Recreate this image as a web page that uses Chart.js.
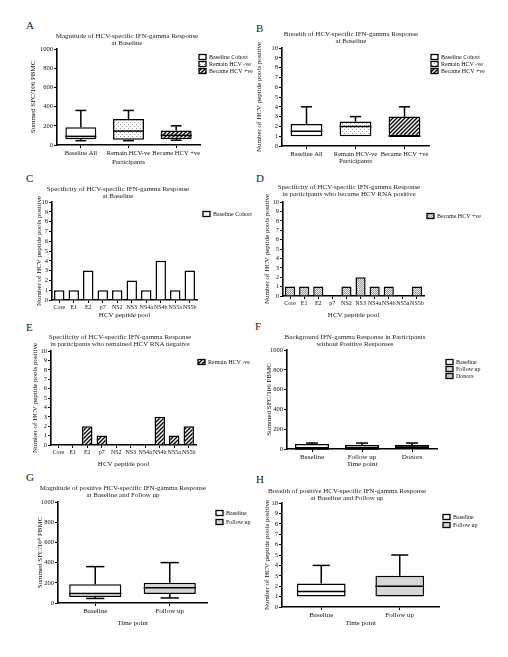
<!DOCTYPE html>
<html><head><meta charset="utf-8">
<script src="https://cdn.jsdelivr.net/npm/chart.js@4/dist/chart.umd.min.js"></script>
<style>
body{margin:0;background:#fff;width:508px;height:657px;position:relative;overflow:hidden;font-family:"Liberation Serif","DejaVu Serif",serif;}
canvas{position:absolute;}
.t{position:absolute;font-size:7px;line-height:7px;text-align:center;white-space:nowrap;transform:translateX(-50%);color:#222;z-index:2}
.l{position:absolute;font-size:11px;line-height:11px;color:#222;z-index:2}
</style></head><body>
<div class="l" style="left:26px;top:20px">A</div>
<div class="l" style="left:256px;top:23px">B</div>
<div class="l" style="left:26px;top:173px">C</div>
<div class="l" style="left:256px;top:173px">D</div>
<div class="l" style="left:26px;top:322px">E</div>
<div class="l" style="left:255px;top:321px">F</div>
<div class="l" style="left:26px;top:472px">G</div>
<div class="l" style="left:256px;top:474px">H</div>
<div class="t" style="left:127px;top:33px">Magnitude of HCV-specific IFN-gamma Response<br>at Baseline</div>
<div class="t" style="left:351px;top:31px">Breadth of HCV-specific IFN-gamma Response<br>at Baseline</div>
<div class="t" style="left:118px;top:186px">Specificity of HCV-specific IFN-gamma Response<br>at Baseline</div>
<div class="t" style="left:349px;top:184px">Specificity of HCV-specific IFN-gamma Response<br>in participants who became HCV RNA positive</div>
<div class="t" style="left:120px;top:334px">Specificity of HCV-specific IFN-gamma Response<br>in participants who remained HCV RNA negative</div>
<div class="t" style="left:355px;top:334px">Background IFN-gamma Response in Participants<br>without Positive Responses</div>
<div class="t" style="left:123px;top:485px">Magnitude of positive HCV-specific IFN-gamma Response<br>at Baseline and Follow up</div>
<div class="t" style="left:347px;top:488px">Breadth of positive HCV-specific IFN-gamma Response<br>at Baseline and Follow up</div>
<script>
// ---------- DATA ----------
const participantCats = ['Baseline All', 'Remain HCV-ve', 'Became HCV +ve'];
const magMin = [45, 45, 50];
const magQ1 = [60, 55, 60];
const magMed = [90, 145, 100];
const magQ3 = [185, 270, 150];
const magMax = [360, 360, 200];

const brMin = [1, 1, 1];
const brQ1 = [1, 1, 1];
const brMed = [1.5, 2, 1];
const brQ3 = [2.25, 2.5, 3];
const brMax = [4, 3, 4];

const poolCats = ['Core', 'E1', 'E2', 'p7', 'NS2', 'NS3', 'NS4a', 'NS4b', 'NS5a', 'NS5b'];
const baselineCounts = [1, 1, 3, 1, 1, 2, 1, 4, 1, 3];
const becameCounts = [1, 1, 1, 0, 1, 2, 1, 1, 0, 1];
const remainCounts = [0, 0, 2, 1, 0, 0, 0, 3, 1, 2];

const bgCats = ['Baseline', 'Follow up', 'Donors'];
const bgMin = [0, 0, 0];
const bgQ1 = [0, 0, 0];
const bgMed = [0, 0, 20];
const bgQ3 = [50, 40, 40];
const bgMax = [60, 60, 60];

const timeCats = ['Baseline', 'Follow up'];
const posMagMin = [45, 50];
const posMagQ1 = [60, 90];
const posMagMed = [95, 150];
const posMagQ3 = [185, 200];
const posMagMax = [360, 400];

const posBrMin = [1, 1];
const posBrQ1 = [1, 1];
const posBrMed = [1.5, 2];
const posBrQ3 = [2.25, 3];
const posBrMax = [4, 5];

const sfcTicksMax = 1000, sfcStep = 200;
const countTicksMax = 10, countStep = 1;

// ---------- STYLE ----------
const F = '"Liberation Serif", "DejaVu Serif", serif';
function pat(type){
  const c = document.createElement('canvas'); const x = c.getContext('2d');
  if (type === 'hatch') {
    c.width = c.height = 4; x.fillStyle = '#fff'; x.fillRect(0,0,4,4);
    x.strokeStyle = '#000'; x.lineWidth = 1.4; x.beginPath();
    x.moveTo(-1,5); x.lineTo(5,-1); x.moveTo(-1,1); x.lineTo(1,-1); x.moveTo(3,5); x.lineTo(5,3); x.stroke();
  } else if (type === 'dots') {
    c.width = c.height = 4; x.fillStyle = '#fff'; x.fillRect(0,0,4,4);
    x.fillStyle = '#9a9a9a'; x.fillRect(1,1,1,1); x.fillRect(3,3,1,1);
  } else if (type === 'check') {
    c.width = c.height = 2; x.fillStyle = '#ececec'; x.fillRect(0,0,2,2);
    x.fillStyle = '#9c9c9c'; x.fillRect(0,0,1,1); x.fillRect(1,1,1,1);
  }
  return x.createPattern(c, 'repeat');
}
const P = { white: '#ffffff', dots: pat('dots'), hatch: pat('hatch'), check: pat('check'), light: '#d6d6d6', mid: '#c4c4c4' };

// ---------- PLUGINS ----------
const boxPlugin = {
  id: 'boxw',
  afterDatasetsDraw(chart) {
    const o = chart.options.plugins.boxw; if (!o || !o.on) return;
    const ys = chart.scales.y, ctx = chart.ctx;
    ctx.save(); ctx.strokeStyle = '#000'; ctx.lineWidth = 1.5;
    chart.getDatasetMeta(0).data.forEach((bar, i) => {
      const x = bar.x, hw = bar.width / 2, cw = hw * 0.35, p = v => ys.getPixelForValue(v);
      const ln = (a,b,c,d) => { ctx.beginPath(); ctx.moveTo(a,b); ctx.lineTo(c,d); ctx.stroke(); };
      ln(x - hw, p(o.med[i]), x + hw, p(o.med[i]));
      if (o.max[i] > o.q3[i]) { ln(x, p(o.q3[i]), x, p(o.max[i])); ln(x - cw, p(o.max[i]), x + cw, p(o.max[i])); }
      if (o.min[i] < o.q1[i]) { ln(x, p(o.q1[i]), x, p(o.min[i])); ln(x - cw, p(o.min[i]), x + cw, p(o.min[i])); }
    });
    ctx.restore();
  }
};
const legPlugin = {
  id: 'leg',
  afterDraw(chart) {
    const o = chart.options.plugins.leg; if (!o || !o.items) return;
    const ctx = chart.ctx; ctx.save();
    o.items.forEach((it, i) => {
      const x = o.x, y = o.y + i * o.dy;
      ctx.fillStyle = it.fill; ctx.fillRect(x, y - 2.5, 7, 5);
      ctx.strokeStyle = '#000'; ctx.lineWidth = 1.3; ctx.strokeRect(x, y - 2.5, 7, 5);
      ctx.fillStyle = '#111'; ctx.font = '6px ' + F; ctx.textBaseline = 'middle';
      ctx.fillText(it.label, x + 10, y + 0.5);
    });
    ctx.restore();
  }
};
Chart.register(boxPlugin, legPlugin);

// ---------- LAYOUT (page px) ----------
function make(g, cats, datasets, yMax, yStep, yTitle, xTitle, xFs, box, leg) {
  const L = Math.round(g.yTitleX - 4), T = g.yTop - 8, B = Math.round(g.xTitleY + 4);
  const c = document.createElement('canvas');
  c.width = g.R - L; c.height = B - T;
  c.style.left = L + 'px'; c.style.top = T + 'px';
  c.style.width = (g.R - L) + 'px'; c.style.height = (B - T) + 'px';
  document.body.appendChild(c);
  const axisW = g.x0 - L, axisH = B - g.yBot;
  new Chart(c, {
    type: 'bar',
    data: { labels: cats, datasets },
    options: {
      responsive: false, animation: false, devicePixelRatio: 1,
      layout: { padding: { left: 0, top: 8, bottom: 0, right: g.R - g.x1 } },
      plugins: {
        legend: { display: false }, tooltip: { enabled: false }, title: { display: false },
        boxw: box ? Object.assign({ on: true }, box) : { on: false },
        leg: { x: leg.x - L, y: leg.y - T, dy: leg.dy || 7, items: leg.items }
      },
      scales: {
        x: {
          offset: true,
          grid: { display: true, drawOnChartArea: false, drawTicks: true, tickLength: 3, color: '#000', offset: false },
          border: { display: true, color: '#000', width: 1.6 },
          ticks: { color: '#111', font: { family: F, size: xFs }, padding: 1, maxRotation: 0, autoSkip: false },
          title: { display: true, text: xTitle, color: '#111', font: { family: F, size: 7 }, padding: 0 },
          afterFit(s) { s.height = axisH; }
        },
        y: {
          min: 0, max: yMax,
          ticks: { stepSize: yStep, autoSkip: false, color: '#111', font: { family: F, size: 6.5 }, padding: 1,
                   callback: v => String(v) },
          grid: { display: true, drawOnChartArea: false, drawTicks: true, tickLength: 3, color: '#000' },
          border: { display: true, color: '#000', width: 1.6 },
          title: { display: true, text: yTitle, color: '#111', font: { family: F, size: 7 }, padding: 0 },
          afterFit(s) { s.width = axisW; }
        }
      }
    }
  });
}
function boxDs(q1, q3, fills, pct) {
  return [{ data: q1.map((v, i) => [v, q3[i]]), backgroundColor: fills, borderColor: '#000', borderWidth: 1.5,
            borderSkipped: false, barPercentage: pct, categoryPercentage: 1 }];
}
function barDs(vals, fill) {
  return [{ data: vals, backgroundColor: fill, borderColor: '#000', borderWidth: 1.5,
            borderSkipped: 'bottom', barPercentage: 0.72, categoryPercentage: 1 }];
}
const sfcTitle = 'Summed SFC/106 PBMC';
const cntTitle = 'Number of HCV peptide pools positive';

// A
make({ x0: 57, x1: 200, yTop: 49, yBot: 145, yTitleX: 33, xTitleY: 162, R: 254 },
  participantCats, boxDs(magQ1, magQ3, [P.white, P.dots, P.hatch], 0.65), sfcTicksMax, sfcStep, sfcTitle, 'Participants', 6.5,
  { min: magMin, q1: magQ1, med: magMed, q3: magQ3, max: magMax },
  { x: 199, y: 57, items: [{ label: 'Baseline Cohort', fill: P.white }, { label: 'Remain HCV -ve', fill: P.dots }, { label: 'Became HCV +ve', fill: P.hatch }] });
// B
make({ x0: 282, x1: 429, yTop: 48, yBot: 146, yTitleX: 259, xTitleY: 161, R: 508 },
  participantCats, boxDs(brQ1, brQ3, [P.white, P.dots, P.hatch], 0.65), countTicksMax, countStep, cntTitle, 'Participants', 6.5,
  { min: brMin, q1: brQ1, med: brMed, q3: brQ3, max: brMax },
  { x: 431, y: 57, items: [{ label: 'Baseline Cohort', fill: P.white }, { label: 'Remain HCV -ve', fill: P.dots }, { label: 'Became HCV +ve', fill: P.hatch }] });
// C
make({ x0: 52, x1: 197, yTop: 202, yBot: 300, yTitleX: 39, xTitleY: 315, R: 254 },
  poolCats, barDs(baselineCounts, P.white), countTicksMax, countStep, cntTitle, 'HCV peptide pool', 6, null,
  { x: 203, y: 214, items: [{ label: 'Baseline Cohort', fill: P.white }] });
// D
make({ x0: 283, x1: 424, yTop: 202, yBot: 296, yTitleX: 267, xTitleY: 315, R: 508 },
  poolCats, barDs(becameCounts, P.check), countTicksMax, countStep, cntTitle, 'HCV peptide pool', 6, null,
  { x: 427, y: 216, items: [{ label: 'Became HCV +ve', fill: P.check }] });
// E
make({ x0: 51, x1: 196, yTop: 351, yBot: 445, yTitleX: 35, xTitleY: 464, R: 254 },
  poolCats, barDs(remainCounts, P.hatch), countTicksMax, countStep, cntTitle, 'HCV peptide pool', 6, null,
  { x: 198, y: 362, items: [{ label: 'Remain HCV -ve', fill: P.hatch }] });
// F
make({ x0: 287, x1: 437, yTop: 350, yBot: 449, yTitleX: 269, xTitleY: 464, R: 508 },
  bgCats, boxDs(bgQ1, bgQ3, [P.white, P.light, P.mid], 0.68), sfcTicksMax, sfcStep, sfcTitle, 'Time point', 7,
  { min: bgMin, q1: bgQ1, med: bgMed, q3: bgQ3, max: bgMax },
  { x: 446, y: 362, items: [{ label: 'Baseline', fill: P.white }, { label: 'Follow up', fill: P.light }, { label: 'Donors', fill: P.mid }] });
// G
make({ x0: 58, x1: 207, yTop: 502, yBot: 603, yTitleX: 40, xTitleY: 623, R: 254 },
  timeCats, boxDs(posMagQ1, posMagQ3, [P.white, P.light], 0.7), sfcTicksMax, sfcStep, 'Summed SFC/10\u2076 PBMC', 'Time point', 7,
  { min: posMagMin, q1: posMagQ1, med: posMagMed, q3: posMagQ3, max: posMagMax },
  { x: 216, y: 513, dy: 9, items: [{ label: 'Baseline', fill: P.white }, { label: 'Follow up', fill: P.light }] });
// H
make({ x0: 282, x1: 439, yTop: 503, yBot: 607, yTitleX: 267, xTitleY: 623, R: 508 },
  timeCats, boxDs(posBrQ1, posBrQ3, [P.white, P.light], 0.62), countTicksMax, countStep, cntTitle, 'Time point', 7,
  { min: posBrMin, q1: posBrQ1, med: posBrMed, q3: posBrQ3, max: posBrMax },
  { x: 443, y: 517, dy: 8, items: [{ label: 'Baseline', fill: P.white }, { label: 'Follow up', fill: P.light }] });
</script>
</body></html>
